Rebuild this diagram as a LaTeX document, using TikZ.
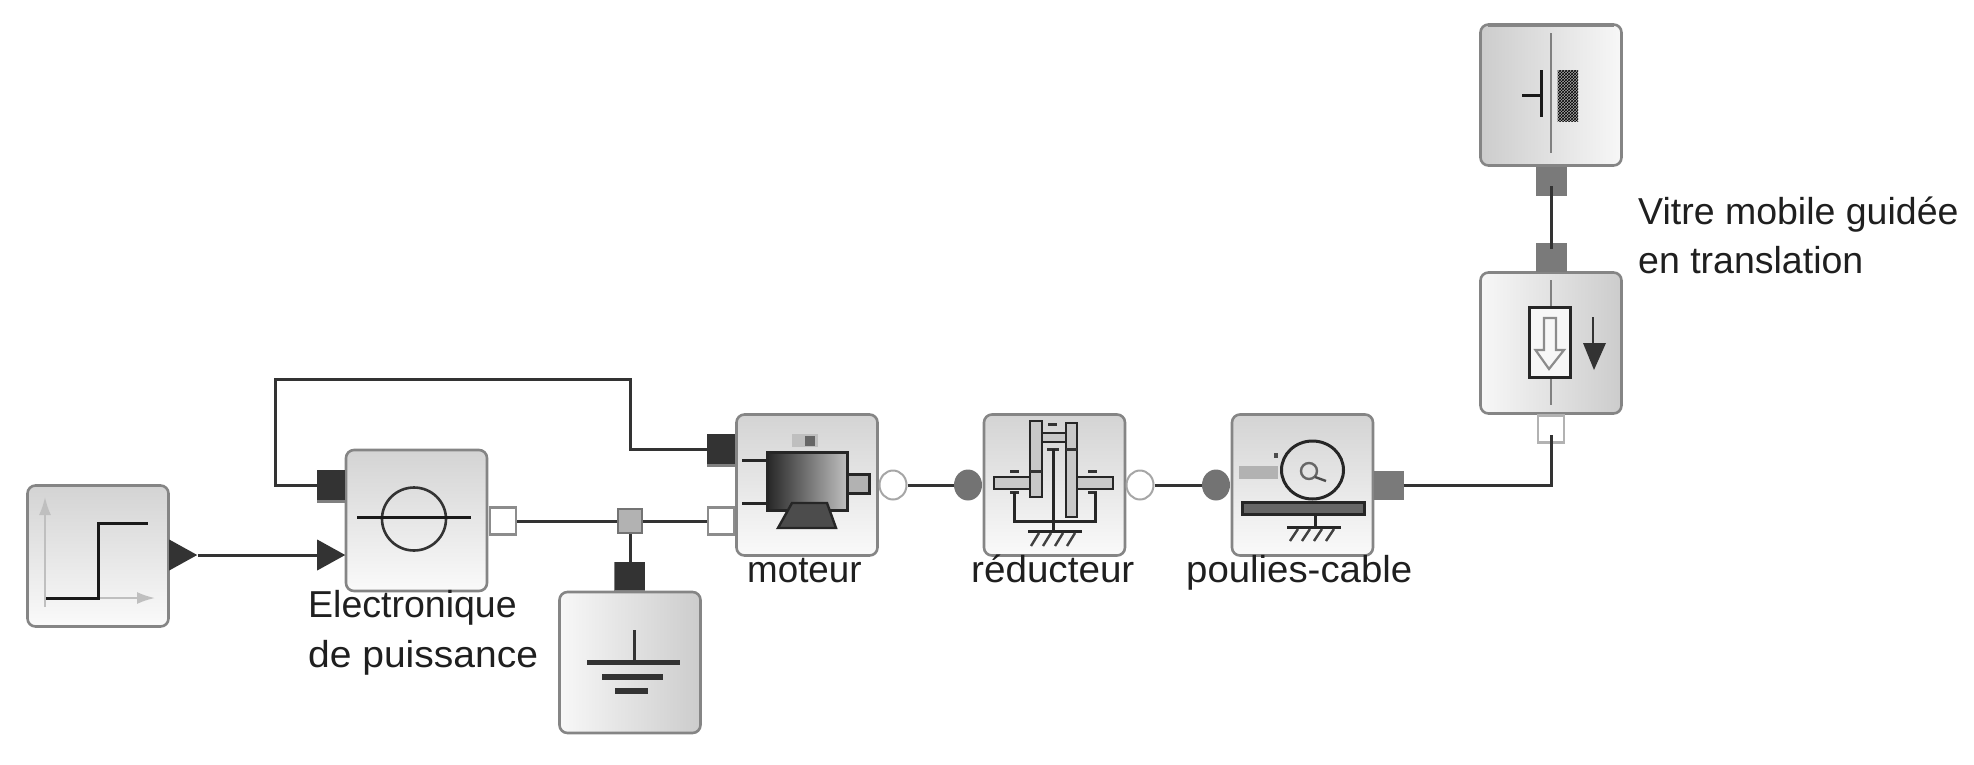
\documentclass[tikz,border=0pt]{standalone}
\usepackage{fontspec}
\usepackage{graphicx}
\setmainfont{Liberation Sans}
\usetikzlibrary{shapes.geometric,patterns,arrows.meta,calc}
\definecolor{ink}{HTML}{333333}
\definecolor{edge}{HTML}{858585}
\definecolor{mid}{HTML}{C8C8C8}
\tikzset{
  x=1pt,y=-1pt,
  block/.style={rectangle,rounded corners=8pt,draw=edge,line width=2.6pt,minimum width=141pt,minimum height=141pt,inner sep=0pt},
  blockv/.style={block,top color=black!17,bottom color=black!2},
  blockl/.style={block,left color=black!3,right color=black!20},
  blockr/.style={block,left color=black!20,right color=black!3},
  bport/.style={rectangle,fill=ink,inner sep=0pt,minimum width=28pt,minimum height=30pt},
  wport/.style={rectangle,draw=black!45,fill=white,line width=2.2pt,inner sep=0pt,minimum width=26pt,minimum height=27pt},
  gport/.style={rectangle,fill=black!52,inner sep=0pt,minimum width=30pt,minimum height=29pt},
  jport/.style={rectangle,draw=black!55,fill=black!30,line width=2.5pt,inner sep=0pt,minimum width=24pt,minimum height=24pt},
  wcirc/.style={ellipse,draw=black!35,fill=white,line width=2pt,inner sep=0pt,minimum width=27pt,minimum height=29pt},
  gcirc/.style={ellipse,fill=black!55,inner sep=0pt,minimum width=28pt,minimum height=31pt},
  tri/.style={isosceles triangle,isosceles triangle stretches,fill=ink,inner sep=0pt,minimum width=31pt,minimum height=28pt,shape border rotate=0,anchor=west},
  wire/.style={draw=ink,line width=3pt},
  ico/.style={draw=black!85,line width=3pt},
  lab/.style={anchor=base west,inner sep=0pt,text=black!88,font=\fontsize{37.5}{40}\selectfont},
  cpart/.style={draw=black!85,fill=mid,line width=2.4pt},
}
\begin{document}
\begin{tikzpicture}
\useasboundingbox (0,0) rectangle (1974,764);
% blocks
\node[blockv] (step) at (98,556) {};
\node[blockv] (elec) at (416.5,520.5) {};
\node[blockl] (gnd) at (630,662.5) {};
\node[blockv] (mot) at (807,485) {};
\node[blockv] (red) at (1054.5,485) {};
\node[blockv] (pou) at (1302.5,485) {};
\node[blockl] (mob) at (1551,343) {};
\node[blockr] (fix) at (1551,95) {};
\draw[edge,line width=3pt] (1488,25) -- (1614,25);
% port shadows
\fill[black!50] (317,470) rectangle (345,503);
\fill[black!50] (707,434) rectangle (735,467);
\fill[black!50] (614,562) rectangle (645,591);
% ports
\node[tri] (o1) at (169,555) {};
\node[tri] (i2) at (317,555) {};
\node[bport] (c2) at (331,485) {};
\node[wport] (o2) at (503,521) {};
\node[bport,minimum width=28pt] (c3) at (721,449) {};
\node[wport] (v3) at (721,521) {};
\node[jport] (j) at (630,521) {};
\node[bport,minimum width=30pt,minimum height=28pt] (g) at (630,576) {};
\node[wcirc] (o3) at (893,485) {};
\node[gcirc] (i4) at (968,485) {};
\node[wcirc] (o4) at (1140,485) {};
\node[gcirc] (i5) at (1216,485) {};
\node[gport] (o5) at (1388.5,485) {};
\node[wport,draw=black!30] (t6) at (1551,429) {};
\node[gport,minimum width=31pt] (b6) at (1551,257.5) {};
\node[gport,minimum width=31pt] (b7) at (1551,181) {};
% connectors
\draw[wire] (o1.east) -- (i2.west);
\draw[wire] (c2.west) -- (275.5,485) -- (275.5,379) -- (630,379) -- (630,449) -- (c3.west);
\draw[wire] (o2.east) -- (j.west);
\draw[wire] (j.east) -- (v3.west);
\draw[wire] (j.south) -- (g.north);
\draw[wire] (o3.east) -- (i4.west);
\draw[wire] (o4.east) -- (i5.west);
\draw[wire] (o5.east) -- (1551,485) -- ($(t6.center)+(0,6)$);
\draw[wire] ($(b7.center)+(0,5)$) -- ($(b6.center)+(0,-9)$);
% step icon
\draw[black!25,line width=2pt,-{Latex[length=18pt,width=12pt]}] (45,607) -- (45,497);
\draw[black!25,line width=2pt,-{Latex[length=18pt,width=12pt]}] (45,598) -- (155,598);
\draw[black!90,line width=3pt] (46,598) -- (98,598) -- (98,523) -- (148,523);
% source icon
\draw[black!80,line width=2.6pt] (414,519) ellipse (32 and 31.5);
\draw[black!90,line width=3pt] (357,517) -- (471,517);
% ground icon
\draw[ink,line width=3pt] (634,630) -- (634,662);
\draw[ink,line width=5.5pt] (587,662.5) -- (680,662.5);
\draw[ink,line width=5.5pt] (602,677) -- (663,677);
\draw[ink,line width=5.5pt] (615,691) -- (648,691);
% motor icon
\fill[black!25] (792,434) rectangle (818,447);
\fill[black!60] (805,436) rectangle (815,446);
\draw[ico] (742,460) -- (767,460);
\draw[ico] (742,503) -- (767,503);
\draw[ico,fill=black!30] (847,474) rectangle (869,493);
\shade[left color=black!85,right color=black!25] (767,452) rectangle (847,510);
\draw[ico] (767,452) rectangle (847,510);
\draw[ico,fill=black!70,line width=2.4pt] (792,503) -- (827,503) -- (836,528) -- (778,528) -- cycle;
% reducer icon
\draw[cpart] (1030,421) rectangle (1042,497);
\draw[cpart] (1066,423) rectangle (1077,517);
\draw[cpart] (1042,433) rectangle (1066,442);
\draw[cpart] (994,477) rectangle (1030,489);
\draw[cpart] (1077,477) rectangle (1113,489);
\draw[ink,line width=3pt] (1030,471) -- (1042,471);
\draw[ink,line width=3pt] (1066,449) -- (1077,449);
\draw[ink,line width=3pt] (1048,424) -- (1057,424);
\draw[ink,line width=3pt] (1047,449) -- (1059,449);
\draw[ink,line width=3pt] (1010,471) -- (1019,471);
\draw[ink,line width=3pt] (1088,471) -- (1097,471);
\draw[ink,line width=3pt] (1010,492) -- (1019,492);
\draw[ink,line width=3pt] (1088,492) -- (1097,492);
\draw[ico] (1014,492) -- (1014,521) -- (1095,521) -- (1095,492);
\draw[ico] (1053,449) -- (1053,531);
\draw[ico] (1028,531) -- (1082,531);
\foreach \h in {1031,1043,1055,1067}{\draw[black!75,line width=2.4pt] (\h+8,533) -- (\h,546);}
% pulley icon
\fill[black!30] (1239,466) rectangle (1278,479);
\draw[black!85,line width=3pt] (1312.5,470) ellipse (31 and 29);
\draw[black!60,line width=2.4pt] (1309,471) circle (8);
\draw[black!70,line width=2.4pt] (1315,477) -- (1326,481);
\fill[black!70] (1274,453) rectangle (1278,458);
\draw[ico,fill=black!60] (1242,502) rectangle (1364,514);
\draw[ico] (1315,514) -- (1315,527);
\draw[ico] (1287,527) -- (1341,527);
\foreach \h in {1290,1302,1314,1326}{\draw[black!75,line width=2.4pt] (\h+8,529) -- (\h,541);}
% wall icon
\draw[black!50,line width=2.4pt] (1551,33) -- (1551,153);
\draw[black!90,line width=3pt] (1541,70) -- (1541,117);
\draw[black!90,line width=3pt] (1522,95) -- (1541,95);
\fill[black!35] (1557.5,70) rectangle (1578,121);
\fill[pattern=crosshatch,pattern color=black] (1557.5,70) rectangle (1578,121);
% translator icon
\draw[black!50,line width=2.4pt] (1551,280) -- (1551,405);
\draw[black!85,line width=3pt,fill=black!3] (1529,307) rectangle (1570,377);
\draw[black!45,line width=2.2pt] (1544,318) -- (1556,318) -- (1556,350) -- (1564,350) -- (1549,369) -- (1535.5,350) -- (1544,350) -- cycle;
\draw[ink,line width=2.4pt] (1593,317) -- (1593,345);
\fill[ink] (1583,343) -- (1606,343) -- (1594,370) -- cycle;
% labels
\node[lab] (t1) at (308,617) {Electronique};
\node[lab] (t2) at (308,667) {\scalebox{1.04}[1]{de puissance}};
\node[lab] (t3) at (747,582) {\scalebox{0.98}[1]{moteur}};
\node[lab] (t4) at (971,582) {\scalebox{1.03}[1]{réducteur}};
\node[lab] (t5) at (1186,582) {\scalebox{1.023}[1]{poulies-cable}};
\node[lab] (t6b) at (1638,224) {Vitre mobile guidée};
\node[lab] (t7) at (1638,273) {en translation};
\end{tikzpicture}
\end{document}
